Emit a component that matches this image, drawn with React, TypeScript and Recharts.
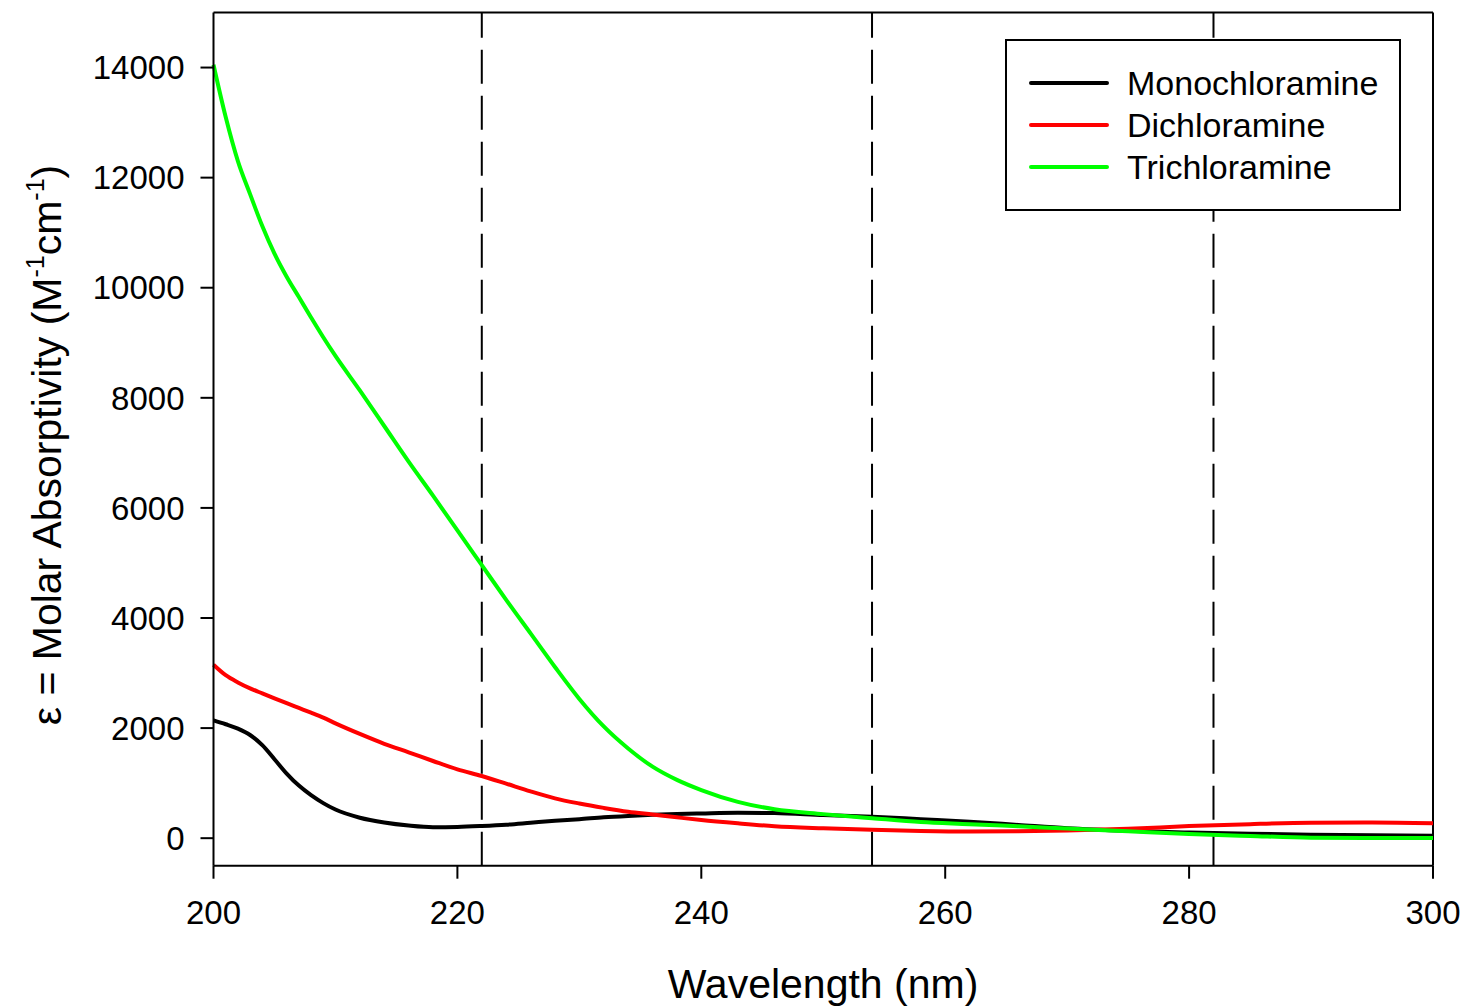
import React from 'react';
import { LineChart, Line, XAxis, YAxis, ReferenceLine, Legend } from 'recharts';

// wavelength grid (nm)
const wavelengths = [
  200, 201, 202, 203, 204, 205, 206, 207, 208, 209, 210, 212, 214, 216, 218, 220, 222, 224, 226, 228,
  230, 232, 234, 236, 238, 240, 243, 246, 250, 254, 258, 262, 266, 270, 275, 280, 285, 290, 295, 300,
];

// molar absorptivity, M^-1 cm^-1
const monochloramine = [
  2140, 2070, 1990, 1874, 1690, 1435, 1174, 955, 781, 637, 520, 372, 285, 230, 200, 205, 222, 245, 280, 315,
  345, 380, 405, 425, 440, 450, 462, 456, 420, 390, 345, 300, 240, 180, 133, 103, 80, 64, 52, 45,
];
const dichloramine = [
  3150, 2960, 2830, 2722, 2630, 2540, 2452, 2366, 2280, 2190, 2086, 1894, 1715, 1560, 1402, 1250, 1130, 991, 850, 724,
  630, 550, 480, 430, 379, 330, 270, 218, 180, 151, 130, 120, 125, 140, 170, 220, 255, 280, 285, 272,
];
const trichloramine = [
  14050, 13100, 12300, 11700, 11120, 10620, 10200, 9830, 9460, 9100, 8760, 8134, 7488, 6840, 6222, 5590, 4960, 4330, 3720, 3110,
  2530, 2030, 1630, 1300, 1060, 875, 660, 525, 437, 363, 293, 255, 215, 175, 125, 75, 40, 10, 5, 5,
];

const xTicks = [200, 220, 240, 260, 280, 300];
const yTicks = [0, 2000, 4000, 6000, 8000, 10000, 12000, 14000];
const markers = [222, 254, 282];

const series = [
  { key: 'mono', name: 'Monochloramine', color: '#000000' },
  { key: 'di', name: 'Dichloramine', color: '#ff0000' },
  { key: 'tri', name: 'Trichloramine', color: '#00ff00' },
];

const data = wavelengths.map((w, i) => ({
  w,
  mono: monochloramine[i],
  di: dichloramine[i],
  tri: trichloramine[i],
}));

const FONT = '"Liberation Sans", Arial, Helvetica, sans-serif';

const XLabel = () => (
  <text x={823} y={998} textAnchor="middle" fontSize={41} fontFamily={FONT} fill="#000">
    Wavelength (nm)
  </text>
);

const YLabel = () => (
  <text
    x={61}
    y={445}
    transform="rotate(-90, 61, 445)"
    textAnchor="middle"
    fontSize={41}
    fontFamily={FONT}
    fill="#000"
  >
    ε = Molar Absorptivity (M
    <tspan fontSize={25} dy={-17}>-1</tspan>
    <tspan dy={17}>cm</tspan>
    <tspan fontSize={25} dy={-17}>-1</tspan>
    <tspan dy={17}>)</tspan>
  </text>
);

const LegendBox = () => (
  <svg width={398} height={174} style={{ display: 'block' }}>
    <rect x={1} y={1} width={394} height={170} fill="#fff" stroke="#000" strokeWidth={2} />
    {series.map((s, i) => (
      <g key={s.key}>
        <line
          x1={26}
          x2={102}
          y1={44 + i * 42}
          y2={44 + i * 42}
          stroke={s.color}
          strokeWidth={4}
          strokeLinecap="round"
        />
        <text x={122} y={56 + i * 42} fontSize={34} fontFamily={FONT} fill="#000">
          {s.name}
        </text>
      </g>
    ))}
  </svg>
);

export default function App() {
  return (
    <div style={{ position: 'absolute', left: 0, top: 0, background: '#fff' }}>
      <LineChart
        width={1465}
        height={1008}
        data={data}
        margin={{ top: 12.5, right: 32, left: 133.5, bottom: 82.3 }}
        style={{ fontFamily: FONT }}
      >
        <XAxis
          dataKey="w"
          type="number"
          domain={[200, 300]}
          ticks={xTicks}
          height={60}
          tickSize={13}
          tickMargin={22}
          axisLine={{ stroke: '#000', strokeWidth: 2 }}
          tickLine={{ stroke: '#000', strokeWidth: 2 }}
          tick={{ fill: '#000', fontSize: 33, fontFamily: FONT }}
          label={<XLabel />}
        />
        <YAxis
          type="number"
          domain={[-500, 15000]}
          ticks={yTicks}
          width={80}
          tickSize={13}
          tickMargin={16}
          axisLine={{ stroke: '#000', strokeWidth: 2 }}
          tickLine={{ stroke: '#000', strokeWidth: 2 }}
          tick={{ fill: '#000', fontSize: 33, fontFamily: FONT }}
          label={<YLabel />}
        />
        <ReferenceLine y={15000} stroke="#000" strokeWidth={2} />
        <ReferenceLine x={300} stroke="#000" strokeWidth={2} />
        {markers.map((m) => (
          <ReferenceLine key={m} x={m} stroke="#000" strokeWidth={2} strokeDasharray="34 12" />
        ))}
        {series.map((s) => (
          <Line
            key={s.key}
            type="monotone"
            dataKey={s.key}
            name={s.name}
            stroke={s.color}
            strokeWidth={4}
            dot={false}
            isAnimationActive={false}
          />
        ))}
        <Legend
          layout="vertical"
          align="center"
          verticalAlign="middle"
          content={<LegendBox />}
          wrapperStyle={{ position: 'absolute', left: 1005, top: 39, width: 398, height: 174 }}
        />
      </LineChart>
    </div>
  );
}
